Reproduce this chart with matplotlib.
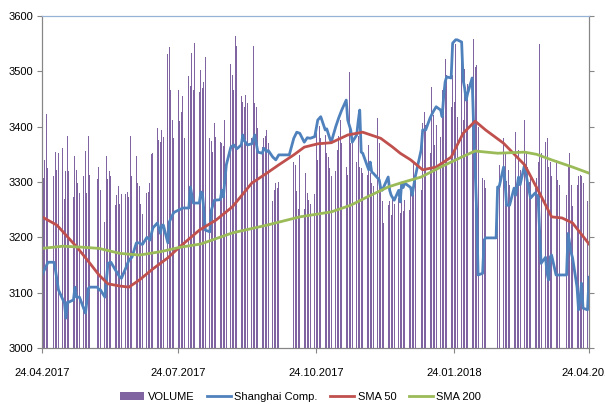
import matplotlib
matplotlib.use("Agg")
import matplotlib.pyplot as plt
import matplotlib.dates as mdates
import pandas as pd

plt.rcParams['font.family'] = ['Liberation Sans', 'DejaVu Sans']

# Shanghai Composite (holiday stretches kept flat like the original)
price_dates = [
    "2017-04-24", "2017-04-28", "2017-05-02", "2017-05-03", "2017-05-05", "2017-05-09", "2017-05-10",
    "2017-05-11", "2017-05-12", "2017-05-15", "2017-05-16", "2017-05-17", "2017-05-19", "2017-05-23",
    "2017-05-25", "2017-05-26", "2017-05-31", "2017-06-01", "2017-06-02", "2017-06-05", "2017-06-07",
    "2017-06-09", "2017-06-12", "2017-06-15", "2017-06-16", "2017-06-19", "2017-06-21", "2017-06-23",
    "2017-06-26", "2017-06-28", "2017-06-30", "2017-07-03", "2017-07-05", "2017-07-07", "2017-07-10",
    "2017-07-12", "2017-07-13", "2017-07-14", "2017-07-17", "2017-07-18", "2017-07-20", "2017-07-21",
    "2017-07-24", "2017-07-27", "2017-07-31", "2017-08-01", "2017-08-03", "2017-08-07", "2017-08-08",
    "2017-08-09", "2017-08-10", "2017-08-11", "2017-08-14", "2017-08-15", "2017-08-17", "2017-08-21",
    "2017-08-22", "2017-08-23", "2017-08-25", "2017-08-28", "2017-08-30", "2017-09-01", "2017-09-04",
    "2017-09-05", "2017-09-06", "2017-09-08", "2017-09-11", "2017-09-13", "2017-09-15", "2017-09-18",
    "2017-09-19", "2017-09-21", "2017-09-22", "2017-09-25", "2017-09-27", "2017-09-29", "2017-10-06",
    "2017-10-09", "2017-10-11", "2017-10-13", "2017-10-16", "2017-10-18", "2017-10-20", "2017-10-23",
    "2017-10-25", "2017-10-27", "2017-10-30", "2017-10-31", "2017-11-02", "2017-11-03", "2017-11-06",
    "2017-11-08", "2017-11-10", "2017-11-13", "2017-11-14", "2017-11-16", "2017-11-17", "2017-11-20",
    "2017-11-21", "2017-11-22", "2017-11-23", "2017-11-24", "2017-11-28", "2017-11-29", "2017-11-30",
    "2017-12-01", "2017-12-05", "2017-12-06", "2017-12-07", "2017-12-11", "2017-12-12", "2017-12-13",
    "2017-12-15", "2017-12-18", "2017-12-19", "2017-12-20", "2017-12-21", "2017-12-22", "2017-12-26",
    "2017-12-27", "2017-12-29", "2018-01-02", "2018-01-03", "2018-01-05", "2018-01-08", "2018-01-10",
    "2018-01-12", "2018-01-15", "2018-01-16", "2018-01-17", "2018-01-18", "2018-01-19", "2018-01-22",
    "2018-01-23", "2018-01-25", "2018-01-26", "2018-01-29", "2018-01-30", "2018-01-31", "2018-02-01",
    "2018-02-02", "2018-02-05", "2018-02-06", "2018-02-07", "2018-02-08", "2018-02-09", "2018-02-12",
    "2018-02-13", "2018-02-14", "2018-02-21", "2018-02-22", "2018-02-23", "2018-02-26", "2018-02-27",
    "2018-02-28", "2018-03-02", "2018-03-05", "2018-03-06", "2018-03-08", "2018-03-09", "2018-03-12",
    "2018-03-14", "2018-03-16", "2018-03-19", "2018-03-21", "2018-03-23", "2018-03-26", "2018-03-27",
    "2018-03-28", "2018-03-29", "2018-03-30", "2018-04-02", "2018-04-09", "2018-04-10", "2018-04-12",
    "2018-04-13", "2018-04-16", "2018-04-17", "2018-04-18", "2018-04-19", "2018-04-20", "2018-04-23",
    "2018-04-24",
]
price_vals = [
    3132, 3155, 3155, 3141, 3105, 3081, 3054,
    3083, 3083, 3087, 3110, 3092, 3092, 3063,
    3108, 3110, 3110, 3105, 3105, 3092, 3153,
    3155, 3141, 3128, 3126, 3145, 3159, 3164,
    3190, 3190, 3187, 3200, 3195, 3217, 3226,
    3207, 3222, 3222, 3190, 3228, 3240, 3245,
    3249, 3253, 3253, 3291, 3262, 3262, 3282,
    3280, 3249, 3213, 3210, 3249, 3267, 3268,
    3285, 3273, 3331, 3363, 3367, 3360, 3367,
    3385, 3375, 3367, 3369, 3385, 3354, 3352,
    3361, 3355, 3357, 3345, 3340, 3349, 3349,
    3379, 3390, 3388, 3372, 3380, 3379, 3382,
    3412, 3418, 3394, 3396, 3379, 3372, 3400,
    3416, 3430, 3448, 3412, 3394, 3372, 3385,
    3410, 3430, 3354, 3352, 3322, 3336, 3318,
    3316, 3304, 3289, 3285, 3309, 3285, 3276,
    3267, 3285, 3264, 3298, 3290, 3298, 3290,
    3276, 3309, 3358, 3394, 3394, 3416, 3427,
    3436, 3430, 3418, 3454, 3481, 3490, 3488,
    3551, 3557, 3557, 3553, 3484, 3470, 3448,
    3460, 3488, 3400, 3322, 3250, 3132, 3135,
    3195, 3199, 3199, 3291, 3291, 3327, 3298,
    3258, 3258, 3289, 3276, 3309, 3295, 3331,
    3298, 3271, 3280, 3273, 3153, 3164, 3135,
    3123, 3164, 3168, 3132, 3132, 3207, 3173,
    3163, 3110, 3069, 3090, 3117, 3072, 3069,
    3128,
]

sma50_dates = [
    "2017-04-24", "2017-05-04", "2017-05-11", "2017-05-18", "2017-05-26", "2017-06-01", "2017-06-07",
    "2017-06-15", "2017-06-21", "2017-06-28", "2017-07-07", "2017-07-17", "2017-07-25", "2017-08-07",
    "2017-08-18", "2017-08-29", "2017-09-11", "2017-09-21", "2017-09-29", "2017-10-09", "2017-10-16",
    "2017-10-25", "2017-11-03", "2017-11-14", "2017-11-24", "2017-12-06", "2017-12-14", "2017-12-19",
    "2017-12-26", "2018-01-03", "2018-01-12", "2018-01-22", "2018-01-30", "2018-02-07", "2018-02-14",
    "2018-02-26", "2018-03-12", "2018-03-22", "2018-03-30", "2018-04-06", "2018-04-13", "2018-04-24",
]
sma50_vals = [
    3237, 3222, 3201, 3180, 3153, 3132, 3116,
    3112, 3110, 3123, 3143, 3163, 3183, 3213,
    3231, 3255, 3298, 3316, 3331, 3349, 3363,
    3369, 3371, 3385, 3390, 3379, 3363, 3352,
    3340, 3322, 3327, 3345, 3388, 3410, 3394,
    3370, 3331, 3280, 3237, 3235, 3226, 3188,
]

sma200_dates = [
    "2017-04-24", "2017-05-08", "2017-05-22", "2017-06-01", "2017-06-15", "2017-06-28", "2017-07-12",
    "2017-07-25", "2017-08-08", "2017-08-29", "2017-09-21", "2017-10-13", "2017-11-03", "2017-11-16",
    "2017-11-27", "2017-12-11", "2017-12-19", "2018-01-02", "2018-01-15", "2018-01-29", "2018-02-07",
    "2018-02-22", "2018-03-12", "2018-03-20", "2018-03-30", "2018-04-13", "2018-04-24",
]
sma200_vals = [
    3180, 3184, 3182, 3180, 3171, 3168, 3174,
    3182, 3188, 3208, 3222, 3237, 3246, 3258,
    3273, 3291, 3298, 3309, 3327, 3345, 3356,
    3352, 3354, 3350, 3340, 3327, 3316,
]

# daily volume, one row per week (Mon-Fri), 0 = market closed
volume = [
    373, 307, 340, 423, 325,
    0, 310, 355, 322, 352,
    362, 270, 319, 383, 319,
    272, 347, 322, 298, 280,
    310, 356, 281, 383, 313,
    0, 0, 305, 328, 285,
    228, 347, 305, 320, 311,
    258, 276, 293, 261, 279,
    279, 282, 273, 383, 310,
    347, 298, 292, 261, 243,
    280, 282, 298, 350, 353,
    398, 376, 373, 394, 382,
    532, 544, 466, 412, 380,
    466, 410, 427, 455, 380,
    491, 473, 534, 466, 552,
    463, 503, 469, 481, 525,
    380, 374, 355, 407, 382,
    373, 371, 365, 412, 340,
    514, 493, 467, 564, 545,
    455, 444, 435, 457, 442,
    380, 546, 442, 436, 397,
    364, 379, 383, 394, 371,
    266, 286, 298, 289, 300,
    0, 0, 0, 0, 0,
    337, 331, 283, 252, 349,
    251, 316, 280, 268, 261,
    279, 389, 340, 401, 379,
    385, 352, 346, 325, 310,
    319, 358, 383, 412, 370,
    328, 313, 499, 370, 376,
    337, 383, 328, 325, 316,
    313, 367, 316, 298, 292,
    415, 370, 283, 265, 226,
    259, 265, 241, 274, 261,
    271, 244, 265, 247, 268,
    250, 289, 280, 334, 316,
    0, 286, 406, 427, 403,
    352, 472, 421, 367, 403,
    382, 466, 436, 523, 493,
    436, 493, 445, 550, 418,
    520, 412, 505, 454, 478,
    487, 559, 508, 511, 400,
    307, 304, 290, 0, 0,
    0, 0, 0, 279, 330,
    379, 352, 301, 322, 295,
    283, 391, 301, 358, 322,
    412, 352, 328, 300, 307,
    290, 307, 337, 550, 352,
    373, 379, 328, 337, 310,
    340, 304, 295, 0, 0,
    277, 328, 352, 295, 256,
    295, 310, 313, 310, 298,
    265, 325,
]
vol_dates = pd.bdate_range("2017-04-24", "2018-04-24")

tick_dates = ["2017-04-24", "2017-07-24", "2017-10-24", "2018-01-24", "2018-04-24"]

fig = plt.figure(figsize=(6.05, 4.04), dpi=100)
ax = fig.add_axes([0.0694, 0.1386, 0.9042, 0.8218])
ax2 = ax.twinx()

ax2.bar(vol_dates, volume, width=0.68, color='#8064A2', linewidth=0,
        antialiased=False, label='VOLUME')
ax2.set_ylim(0, 600)
ax2.set_yticks(range(0, 700, 100))
ax2.set_yticklabels([])

ax.plot(pd.to_datetime(price_dates), price_vals, color='#4F81BD', lw=2.0, label='Shanghai Comp.')
ax.plot(pd.to_datetime(sma50_dates), sma50_vals, color='#C0504D', lw=2.0, label='SMA 50')
ax.plot(pd.to_datetime(sma200_dates), sma200_vals, color='#9BBB59', lw=2.0, label='SMA 200')

ax.set_zorder(ax2.get_zorder() + 1)
ax.patch.set_visible(False)

ax.set_ylim(3000, 3600)
ax.set_yticks(range(3000, 3700, 100))
ax.set_xlim(pd.Timestamp("2017-04-24"), pd.Timestamp("2018-04-24"))
ax.set_xticks(pd.to_datetime(tick_dates))
ax.xaxis.set_major_formatter(mdates.DateFormatter('%d.%m.%Y'))

for a in (ax, ax2):
    for s in a.spines.values():
        s.set_color('#868686')
        s.set_linewidth(0.8)
    a.spines['top'].set_color('#95B3D7')
    a.tick_params(colors='#868686', labelcolor='black', labelsize=8, length=3.5, width=0.8)
ax.tick_params(axis='x', pad=11)
ax.tick_params(axis='y', pad=3)

h1, l1 = ax2.get_legend_handles_labels()
h2, l2 = ax.get_legend_handles_labels()
fig.legend(h1 + h2, l1 + l2, loc='center', bbox_to_anchor=(0.497, 0.017), ncol=4,
           frameon=False, fontsize=8, handlelength=2.2, handletextpad=0.3, columnspacing=1.1)

fig.savefig('out.png', dpi=100)
